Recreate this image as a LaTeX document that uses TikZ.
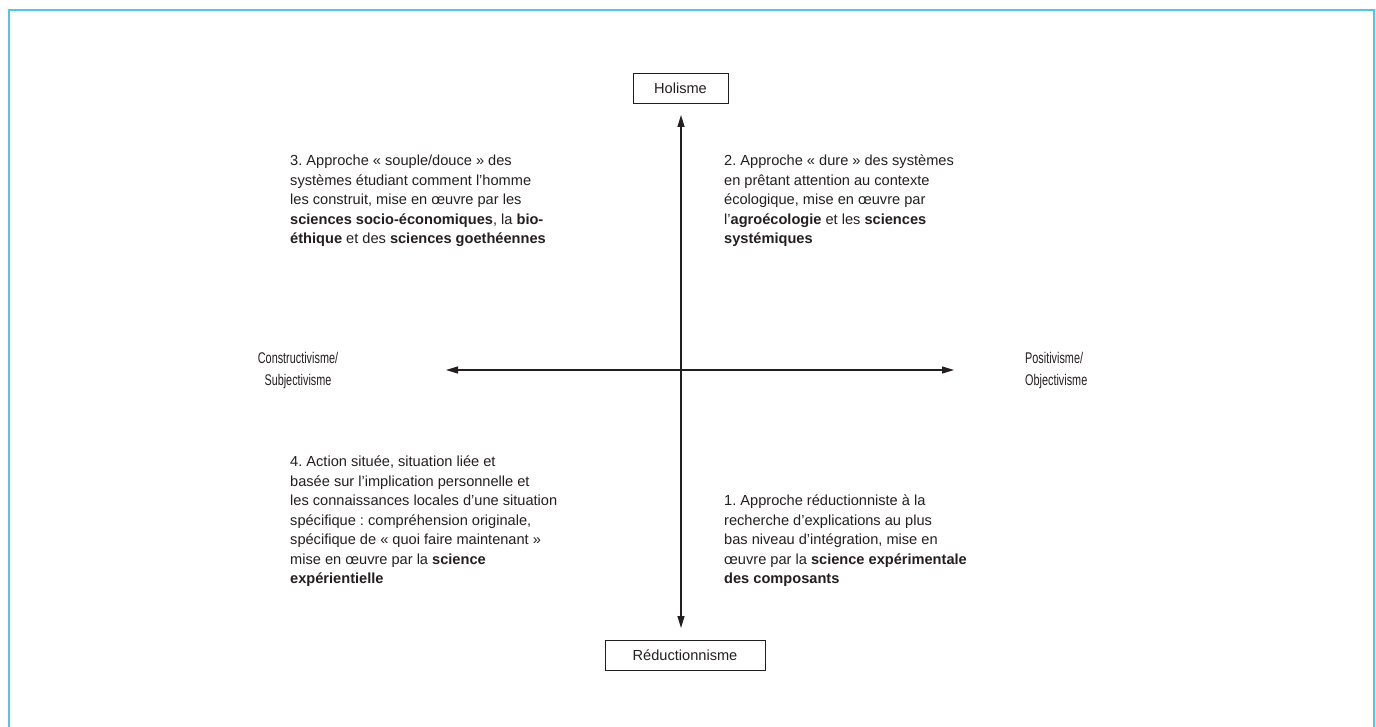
\documentclass[tikz,border=0pt]{standalone}
\usepackage{fontspec}
\setmainfont{Liberation Sans}
\newfontfamily\narrowfont[FakeStretch=0.7]{Liberation Sans}
\usetikzlibrary{arrows.meta}
\definecolor{frameblue}{RGB}{82,196,241}
\definecolor{ink}{RGB}{35,31,32}
\begin{document}
\frenchspacing
\begin{tikzpicture}[x=1pt,y=-1pt,
  txt/.style={font=\frenchspacing\fontsize{14.6}{19.5}\selectfont, text=ink, align=left, inner sep=0pt, anchor=north west},
  axislabel/.style={font=\narrowfont\fontsize{15.5}{22}\selectfont, text=ink, inner sep=0pt},
  pole/.style={draw=ink, line width=0.9pt, font=\fontsize{14.6}{17}\selectfont, text=ink, inner sep=0pt, minimum height=30pt},
  axis/.style={draw=ink, line width=1.2pt, {Triangle[length=12pt,width=7pt]}-{Triangle[length=12pt,width=7pt]}}]
\useasboundingbox (0,0) rectangle (1376,727);
\draw[frameblue, line width=2pt] (9,730) -- (9,10) -- (1374,10) -- (1374,730);

\node[pole, minimum width=95pt] (hol) at (680.5,88) {Holisme};
\node[pole, minimum width=160pt] (red) at (685,655.5) {Réductionnisme};
\coordinate (vtop) at (681,115);
\coordinate (vbot) at (681,628);
\coordinate (hleft) at (446,370);
\coordinate (hright) at (954,370);
\draw[axis] (vtop) -- (vbot);
\draw[axis] (hleft) -- (hright);

\node[axislabel, align=center] (cons) at (298,370) {Constructivisme/\\Subjectivisme};
\node[axislabel, align=left, anchor=west] (posi) at (1025,370) {Positivisme/\\Objectivisme};

\node[txt] (q3) at (290,155) {3. Approche « souple/douce » des\\
systèmes étudiant comment l’homme\\
les construit, mise en œuvre par les\\
\textbf{sciences socio-économiques}, la \textbf{bio-}\\
\textbf{éthique} et des \textbf{sciences goethéennes}};

\node[txt] (q2) at (724,155) {2. Approche « dure » des systèmes\\
en prêtant attention au contexte\\
écologique, mise en œuvre par\\
l’\textbf{agroécologie} et les \textbf{sciences}\\
\textbf{systémiques}};

\node[txt] (q4) at (290,456) {4. Action située, situation liée et\\
basée sur l’implication personnelle et\\
les connaissances locales d’une situation\\
spécifique : compréhension originale,\\
spécifique de « quoi faire maintenant »\\
mise en œuvre par la \textbf{science}\\
\textbf{expérientielle}};

\node[txt] (q1) at (724,495) {1. Approche réductionniste à la\\
recherche d’explications au plus\\
bas niveau d’intégration, mise en\\
œuvre par la \textbf{science expérimentale}\\
\textbf{des composants}};
\end{tikzpicture}
\end{document}
